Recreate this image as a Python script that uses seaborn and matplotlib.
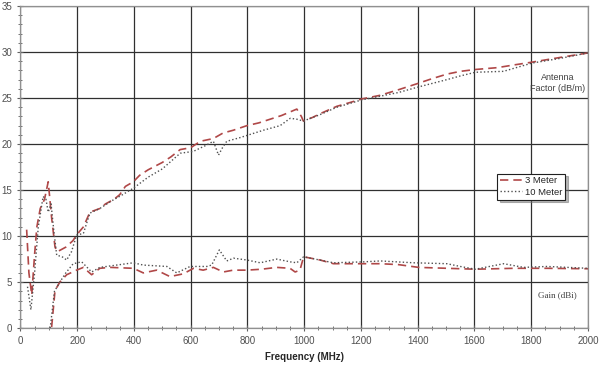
import numpy as np
import matplotlib
matplotlib.use("Agg")
import matplotlib.pyplot as plt
from matplotlib.ticker import MultipleLocator
import seaborn as sns

# antenna factor, 3 m
af3_f = [22, 30, 40, 50, 58, 70, 85, 98, 110, 122, 130, 160, 185, 200, 222, 245, 280, 300,
         330, 350, 370, 398, 420, 450, 500, 530, 563, 600, 634, 680, 714, 750, 798, 840,
         880, 920, 951, 974, 990, 997, 1030, 1056, 1115, 1160, 1203, 1268, 1332, 1402,
         1450, 1503, 1550, 1603, 1680, 1740, 1803, 1900, 2000]
af3 = [10.7, 6.0, 3.6, 8.0, 11.0, 13.0, 14.0, 15.9, 12.0, 8.8, 8.3, 8.8, 9.5, 10.2, 11.0,
       12.6, 13.0, 13.5, 14.0, 14.5, 15.4, 15.9, 16.6, 17.2, 18.0, 18.6, 19.4, 19.6, 20.3,
       20.6, 21.2, 21.5, 22.0, 22.3, 22.7, 23.1, 23.5, 23.8, 23.0, 22.5, 22.9, 23.3, 24.1,
       24.5, 24.9, 25.3, 25.9, 26.6, 27.1, 27.6, 27.9, 28.1, 28.3, 28.6, 28.9, 29.4, 29.9]

# antenna factor, 10 m
af10_f = [25, 37, 50, 63, 80, 90, 98, 108, 118, 128, 145, 163, 180, 198, 222, 245, 280, 320,
          360, 398, 450, 500, 563, 609, 650, 680, 698, 712, 727, 774, 856, 915, 951, 974,
          997, 1056, 1115, 1203, 1268, 1332, 1402, 1503, 1550, 1603, 1702, 1803, 1900, 2000]
af10 = [4.5, 2.0, 6.0, 11.0, 14.3, 14.0, 12.6, 13.5, 10.5, 7.9, 7.8, 7.4, 8.3, 10.1, 10.3,
        12.5, 13.0, 13.8, 14.5, 15.2, 16.4, 17.3, 19.0, 19.2, 19.8, 20.3, 18.8, 19.6, 20.3,
        20.7, 21.5, 22.0, 22.8, 22.7, 22.5, 23.2, 24.0, 24.8, 25.2, 25.6, 26.2, 27.0, 27.4,
        27.8, 27.9, 28.8, 29.3, 29.9]

# gain, 3 m
g3_f = [110, 122, 139, 163, 198, 222, 251, 280, 316, 398, 433, 480, 527, 574, 610, 644, 680,
        715, 750, 798, 850, 903, 950, 968, 985, 998, 1056, 1103, 1209, 1268, 1332, 1403,
        1503, 1603, 1738, 1856, 2000]
g3 = [0.1, 4.1, 5.0, 5.8, 6.3, 6.6, 5.8, 6.5, 6.6, 6.5, 6.0, 6.3, 5.6, 5.9, 6.5, 6.3, 6.6,
      6.1, 6.3, 6.3, 6.4, 6.6, 6.5, 6.1, 6.3, 7.75, 7.4, 7.0, 7.0, 7.0, 6.9, 6.6, 6.5, 6.4,
      6.5, 6.5, 6.45]

# gain, 10 m
g10_f = [105, 120, 139, 160, 186, 216, 251, 280, 339, 398, 433, 516, 551, 598, 657, 674, 701,
         727, 751, 798, 845, 903, 951, 974, 998, 1103, 1209, 1268, 1385, 1503, 1550, 1603,
         1703, 1773, 1856, 2000]
g10 = [0.0, 4.0, 5.0, 6.0, 7.0, 7.2, 6.1, 6.6, 6.85, 7.1, 6.85, 6.7, 6.0, 6.7, 6.7, 6.85,
       8.5, 7.3, 7.6, 7.4, 7.1, 7.5, 7.2, 7.1, 7.75, 7.1, 7.2, 7.3, 7.1, 7.0, 6.7, 6.4, 7.0,
       6.6, 6.7, 6.5]

sns.set_style("white")
plt.rcParams['font.family'] = ['Liberation Sans', 'DejaVu Sans']

fig, ax = plt.subplots(figsize=(6, 3.75), dpi=100)
fig.subplots_adjust(left=0.034, right=0.98, top=0.984, bottom=0.125)

red = '#b04848'
gray = '#505050'

sns.lineplot(x=af3_f, y=af3, ax=ax, color=red, linewidth=1.2,
             linestyle=(0, (5, 3)), label='3 Meter')
sns.lineplot(x=af10_f, y=af10, ax=ax, color=gray, linewidth=1.0,
             linestyle=(0, (1, 1.6)), label='10 Meter')
sns.lineplot(x=g3_f, y=g3, ax=ax, color=red, linewidth=1.2,
             linestyle=(0, (5, 3)), legend=False)
sns.lineplot(x=g10_f, y=g10, ax=ax, color=gray, linewidth=1.0,
             linestyle=(0, (1, 1.6)), legend=False)

ax.set_xlim(0, 2000)
ax.set_ylim(0, 35)
ax.xaxis.set_major_locator(MultipleLocator(200))
ax.xaxis.set_minor_locator(MultipleLocator(50))
ax.yaxis.set_major_locator(MultipleLocator(5))
ax.yaxis.set_minor_locator(MultipleLocator(1))
ax.grid(True, which='major', color='#303030', linewidth=0.9)
ax.set_axisbelow(True)
for s in ax.spines.values():
    s.set_color('#909090')
    s.set_linewidth(0.9)
ax.tick_params(which='both', direction='inout', color='#606060', labelsize=7,
               labelcolor='#505050', left=True, bottom=True)
ax.tick_params(which='major', length=5, width=0.8)
ax.tick_params(which='minor', length=3, width=0.6)

ax.set_xlabel('Frequency (MHz)', fontsize=7, fontweight='bold', labelpad=4)
ax.set_ylabel('')

ax.text(1892, 26.6, 'Antenna\nFactor (dB/m)', fontsize=6.5, color='#404040',
        ha='center', va='center', linespacing=1.3)
ax.text(1892, 3.6, 'Gain (dBi)', fontsize=6.5, color='#404040',
        ha='center', va='center', family=['Liberation Serif', 'DejaVu Serif'])

leg = ax.legend(loc='upper left', bbox_to_anchor=(0.84, 0.48), fontsize=6.8,
                frameon=True, fancybox=False, shadow={'ox': 2, 'oy': -2, 'color': '#707070'},
                borderpad=0.3, borderaxespad=0, handlelength=2.3, handletextpad=0.3,
                labelspacing=0.25)
leg.get_frame().set_edgecolor('#202020')
leg.get_frame().set_linewidth(0.8)

fig.savefig('out.png', dpi=100)
